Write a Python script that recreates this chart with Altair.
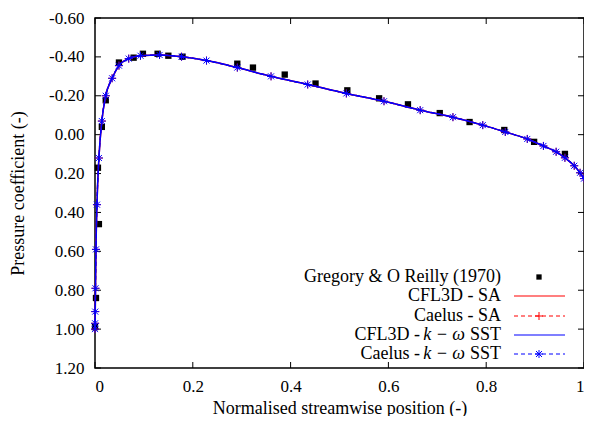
import altair as alt
import pandas as pd

# ---------------- data ----------------
# Experimental data: Gregory & O Reilly (1970)
exp_x = [0.000, 0.002, 0.008, 0.006, 0.014, 0.022, 0.049, 0.079, 0.098, 0.128,
         0.150, 0.179, 0.291, 0.323, 0.388, 0.451, 0.516, 0.581, 0.640, 0.705,
         0.766, 0.837, 0.898, 0.961]
exp_cp = [0.99, 0.84, 0.46, 0.17, -0.04, -0.177, -0.371, -0.396, -0.416, -0.416,
          -0.406, -0.401, -0.365, -0.345, -0.309, -0.263, -0.228, -0.187, -0.156, -0.111,
          -0.065, -0.024, 0.037, 0.099]

# CFD surface distributions (CFL3D lines and Caelus lines with markers)
cfd_x = [0.0000, 0.0002, 0.0005, 0.0010, 0.0020, 0.0040, 0.0080, 0.0140, 0.0220, 0.0350,
         0.0490, 0.0690, 0.0930, 0.1320, 0.1770, 0.2280, 0.2910, 0.3600, 0.4350, 0.5140,
         0.5910, 0.6650, 0.7320, 0.7930, 0.8390, 0.8840, 0.9170, 0.9430, 0.9610, 0.9800,
         0.9920, 1.0000]
cfl3d_sa_cp = [1.00, 0.97, 0.91, 0.79, 0.59, 0.36, 0.12, -0.07, -0.20, -0.29,
               -0.355, -0.391, -0.406, -0.410, -0.401, -0.381, -0.345, -0.300, -0.258, -0.212,
               -0.172, -0.126, -0.090, -0.049, -0.014, 0.022, 0.058, 0.088, 0.119, 0.160,
               0.196, 0.226]
cfl3d_sst_cp = [1.00, 0.97, 0.91, 0.79, 0.59, 0.36, 0.12, -0.07, -0.20, -0.29,
                -0.355, -0.391, -0.406, -0.410, -0.401, -0.381, -0.345, -0.300, -0.258, -0.212,
                -0.172, -0.126, -0.090, -0.049, -0.014, 0.022, 0.058, 0.088, 0.119, 0.160,
                0.196, 0.226]
caelus_sa_cp = [1.00, 0.97, 0.91, 0.79, 0.59, 0.36, 0.12, -0.07, -0.20, -0.29,
                -0.355, -0.391, -0.406, -0.410, -0.401, -0.381, -0.345, -0.300, -0.258, -0.212,
                -0.172, -0.126, -0.090, -0.049, -0.014, 0.022, 0.058, 0.088, 0.119, 0.160,
                0.196, 0.226]
caelus_sst_cp = [1.00, 0.97, 0.91, 0.79, 0.59, 0.36, 0.12, -0.07, -0.20, -0.29,
                 -0.355, -0.391, -0.406, -0.410, -0.401, -0.381, -0.345, -0.300, -0.258, -0.212,
                 -0.172, -0.126, -0.090, -0.049, -0.014, 0.022, 0.058, 0.088, 0.119, 0.160,
                 0.196, 0.226]

x_ticks = [0.0, 0.2, 0.4, 0.6, 0.8, 1.0]
y_ticks = [-0.6, -0.4, -0.2, 0.0, 0.2, 0.4, 0.6, 0.8, 1.0, 1.2]

legend_labels = ["Gregory & O Reilly (1970)", "CFL3D - SA", "Caelus - SA",
                 "CFL3D - ", "Caelus - "]

# ---------------- layout / style ----------------
W, H = 489, 350
FONT = "Liberation Serif"
FS = 18
LFS = 17
RED = "#ff0000"
BLUE = "#0000ff"
PLUS = "M-1,0L1,0M0,-1L0,1"
STAR = "M-1,0L1,0M0,-1L0,1M-0.75,-0.75L0.75,0.75M-0.75,0.75L0.75,-0.75"

xs = alt.Scale(domain=[0, 1], nice=False, zero=False)
ys = alt.Scale(domain=[-0.6, 1.2], reverse=True, nice=False, zero=False)

x_axis = alt.Axis(values=x_ticks, labelExpr="format(datum.value, '~g')",
                  tickSize=0, domain=False, grid=False, labelPadding=10,
                  labelFont=FONT, labelFontSize=LFS, labelColor="black",
                  title="Normalised streamwise position (-)", titleFont=FONT,
                  titleFontSize=FS, titleFontWeight="normal", titleColor="black",
                  titleY=45, titleBaseline="alphabetic")
y_axis = alt.Axis(values=y_ticks,
                  labelExpr="replace(format(datum.value, '.2f'), '\u2212', '-')",
                  tickSize=0, domain=False, grid=False, labelPadding=11,
                  labelFont=FONT, labelFontSize=LFS, labelColor="black",
                  title="Pressure coefficient (-)", titleFont=FONT,
                  titleFontSize=FS, titleFontWeight="normal", titleColor="black",
                  titleX=-77, titleY=H / 2, titleBaseline="middle", titleAngle=-90)

X = alt.X("x:Q", scale=xs, axis=x_axis)
Y = alt.Y("cp:Q", scale=ys, axis=y_axis)

exp_df = pd.DataFrame({"x": exp_x, "cp": exp_cp})
cfl3d_sa_df = pd.DataFrame({"x": cfd_x, "cp": cfl3d_sa_cp})
cfl3d_sst_df = pd.DataFrame({"x": cfd_x, "cp": cfl3d_sst_cp})
caelus_sa_df = pd.DataFrame({"x": cfd_x, "cp": caelus_sa_cp})
caelus_sst_df = pd.DataFrame({"x": cfd_x, "cp": caelus_sst_cp})
xt_df = pd.DataFrame({"x": x_ticks})
yt_df = pd.DataFrame({"cp": y_ticks})

layers = []

# inward tick marks on all four sides (gnuplot style)
layers.append(alt.Chart(xt_df).mark_rule(color="black", strokeWidth=1).encode(
    x=X, y=alt.value(H), y2=alt.value(H - 6)))
layers.append(alt.Chart(xt_df).mark_rule(color="black", strokeWidth=1).encode(
    x=X, y=alt.value(0), y2=alt.value(6)))
layers.append(alt.Chart(yt_df).mark_rule(color="black", strokeWidth=1).encode(
    y=Y, x=alt.value(0), x2=alt.value(6)))
layers.append(alt.Chart(yt_df).mark_rule(color="black", strokeWidth=1).encode(
    y=Y, x=alt.value(W), x2=alt.value(W - 6)))

# experiment
layers.append(alt.Chart(exp_df).mark_square(size=40, color="black", opacity=1).encode(x=X, y=Y))
# CFL3D SA
layers.append(alt.Chart(cfl3d_sa_df).mark_line(color=RED, strokeWidth=1.5,
                                               interpolate="monotone").encode(x=X, y=Y))
# Caelus SA
layers.append(alt.Chart(caelus_sa_df).mark_line(color=RED, strokeWidth=1.2, strokeDash=[4, 3],
                                                interpolate="monotone").encode(x=X, y=Y))
layers.append(alt.Chart(caelus_sa_df).mark_point(shape=PLUS, size=64, color=RED, filled=False,
                                                 strokeWidth=1, opacity=1).encode(x=X, y=Y))
# CFL3D SST
layers.append(alt.Chart(cfl3d_sst_df).mark_line(color=BLUE, strokeWidth=1.5,
                                                interpolate="monotone").encode(x=X, y=Y))
# Caelus SST
layers.append(alt.Chart(caelus_sst_df).mark_line(color=BLUE, strokeWidth=1.2, strokeDash=[4, 3],
                                                 interpolate="monotone").encode(x=X, y=Y))
layers.append(alt.Chart(caelus_sst_df).mark_point(shape=STAR, size=64, color=BLUE, filled=False,
                                                  strokeWidth=1, opacity=1).encode(x=X, y=Y))

# ---------------- legend (gnuplot style: text then sample) ----------------
row_y = [259, 278, 298, 317, 336]
TX = 406
L0, L1, MX = 419, 470, 444
one = pd.DataFrame({"d": [0]})


def text_layer(txt, x, y, italic=False):
    return alt.Chart(one).mark_text(text=txt, align="right", baseline="middle", font=FONT,
                                    fontSize=FS, color="black",
                                    fontStyle="italic" if italic else "normal").encode(
        x=alt.value(x), y=alt.value(y))


def rule_layer(color, y, dash=None):
    kw = dict(color=color, strokeWidth=1.2)
    if dash:
        kw["strokeDash"] = dash
    return alt.Chart(one).mark_rule(**kw).encode(
        x=alt.value(L0), x2=alt.value(L1), y=alt.value(y))


def marker_layer(shape, color, y, size, filled):
    return alt.Chart(one).mark_point(shape=shape, size=size, color=color, filled=filled,
                                     strokeWidth=1, opacity=1).encode(
        x=alt.value(MX), y=alt.value(y))


layers.append(text_layer(legend_labels[0], TX, row_y[0]))
layers.append(marker_layer("square", "black", row_y[0], 28, True))
layers.append(text_layer(legend_labels[1], TX, row_y[1]))
layers.append(rule_layer(RED, row_y[1]))
layers.append(text_layer(legend_labels[2], TX, row_y[2]))
layers.append(rule_layer(RED, row_y[2], [4, 3]))
layers.append(marker_layer(PLUS, RED, row_y[2], 64, False))
for r, col, dash, mk in [(3, BLUE, None, None), (4, BLUE, [4, 3], STAR)]:
    layers.append(text_layer("SST", TX, row_y[r]))
    layers.append(text_layer("k \u2212 \u03c9", TX - 36, row_y[r], italic=True))
    layers.append(text_layer(legend_labels[r], TX - 36 - 45, row_y[r]))
    layers.append(rule_layer(col, row_y[r], dash))
    if mk:
        layers.append(marker_layer(mk, col, row_y[r], 64, False))

chart = alt.layer(*layers).properties(
    width=W, height=H,
    autosize=alt.AutoSizeParams(type="none"),
    padding={"left": 87, "top": 10, "right": 0, "bottom": 48},
    background="white",
).configure_view(stroke="black", strokeWidth=1.5)

chart.save("out.html", embed_options={"renderer": "svg", "actions": False})
